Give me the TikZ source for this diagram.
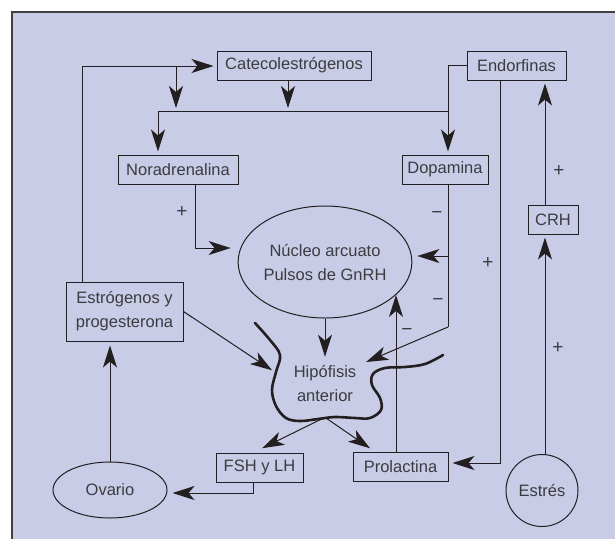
\documentclass[tikz,border=0pt]{standalone}
\usepackage{fontspec}
\setmainfont{Liberation Sans}
\usetikzlibrary{arrows.meta,shapes.geometric,calc}
\definecolor{fondo}{RGB}{200,204,230}
\definecolor{linea}{RGB}{35,31,32}
\definecolor{letra}{RGB}{60,60,64}

\begin{document}
\begin{tikzpicture}[x=1pt,y=-1pt,
  every node/.style={text=letra,font=\fontsize{16.5}{24}\selectfont},
  caja/.style={draw=linea,line width=1pt,minimum height=29pt,inner sep=0pt},
  elipse/.style={draw=linea,line width=1pt,ellipse,inner sep=0pt,align=center},
  flecha/.style={draw=linea,line width=1pt,-{Stealth[length=22pt,width=14pt,inset=6pt]},shorten >=3pt},
  signo/.style={font=\fontsize{19}{19}\selectfont}]
%\draw[help lines] (0,0) grid[step=50] (615,539);
\useasboundingbox (0,0) rectangle (615,539);
\fill[fondo] (12,12) rectangle (615,539);
\draw[line width=1.3pt,black!75] (12,539) -- (12,12) -- (615,12);

\node[caja,minimum width=154pt] (cateco) at (294,65.5) {Catecolestrógenos};
\node[caja,minimum width=99pt] (endor) at (516.5,65.5) {Endorfinas};
\node[caja,minimum width=120pt] (norad) at (178,169.5) {Noradrenalina};
\node[caja,minimum width=86pt] (dopa) at (445,169.5) {Dopamina};
\node[elipse,minimum width=156pt,minimum height=112pt] (nucleo) at (325,262) {Núcleo arcuato\\Pulsos de GnRH};
\node[caja,minimum width=117pt,minimum height=59pt,align=center] (estro) at (124.5,311.5) {Estrógenos y\\progesterona};
\node[caja,minimum width=50pt] (crh) at (553,219.5) {CRH};
\node[caja,minimum width=87pt] (fsh) at (259.5,467.5) {FSH y LH};
\node[caja,minimum width=95pt] (prol) at (400.5,467) {Prolactina};
\node[elipse,minimum width=114pt,minimum height=56pt] (ovario) at (110,490) {Ovario};
\node[draw=linea,line width=1pt,circle,inner sep=0pt,minimum size=72pt] (estres) at (542,490.5) {Estrés};
\node[align=center,inner sep=0pt] (hipo) at (325,383) {Hipófisis\\anterior};

\coordinate (c1) at (82,66);
\coordinate (c2) at (176,66);
\coordinate (c3) at (158,111);
\coordinate (c4) at (448,111);
\coordinate (c5) at (195,248);
\coordinate (c6) at (448,256);
\coordinate (c7) at (448,327);
\coordinate (c8) at (396,0);
\coordinate (c9) at (500,463);
\coordinate (c10) at (545,0);
\coordinate (c11) at (253,493);

% hipotalamo
\draw[flecha] (estro.north -| c1) -- (c1) -- (cateco.west |- c1);
\draw[flecha] (c2) -- (c2 |- c3);
\draw[flecha] (cateco.south -| 288,0) -- (c3 -| 288,0);
\draw[linea,line width=1pt] (c3) -- (c4);
\draw[flecha] (c3) -- (norad.north -| c3);
\draw[flecha] (endor.west) -| (dopa.north -| c4);
\draw[flecha,shorten >=7pt] (norad.south -| c5) -- (c5) -- (nucleo.west |- c5);
\draw[linea,line width=1pt] (dopa.south -| c7) -- (c7);
\draw[flecha,shorten >=5pt] (c6) -- (nucleo.east |- c6);
\draw[flecha] (c7) -- ([xshift=7pt,yshift=1.5pt]hipo.north east);
\draw[flecha] (prol.north -| c8) -- (c8 |- nucleo.-22);
\draw[flecha,shorten >=4pt] (endor.south -| c9) -- (c9) -- (prol.east |- c9);
\draw[flecha] (estres.north -| c10) -- (crh.south -| c10);
\draw[flecha] (crh.north -| c10) -- (endor.south -| c10);

% hipofisis
\draw[flecha] (nucleo.south) -- ([yshift=5pt]hipo.north);
\draw[flecha] (estro.east) -- ([xshift=-19pt,yshift=11pt]hipo.west);
\draw[flecha] ([yshift=-16pt]hipo.south) -- ([yshift=3pt]fsh.north);
\draw[flecha] ([yshift=-16pt]hipo.south) -- ([xshift=20pt,yshift=2pt]prol.north west);
\draw[linea,line width=2.6pt,line cap=round] plot[smooth,tension=0.6] coordinates {(255,323) (270,340) (280,355) (276,372) (272,390) (276,406) (286,418) (300,421) (318,419) (335,417) (355,418) (370,418) (381,410) (380,398) (372,385) (373,374) (385,368) (405,367) (425,364) (443,355)};

% ovario
\draw[flecha,shorten >=5pt] (fsh.south -| c11) -- (c11) -- (ovario.east |- c11);
\draw[flecha,shorten >=4pt] (ovario.north) -- (estro.south -| ovario.north);

\node[signo] (s1) at (182,212) {+};
\node[signo] (s2) at (437,215) {−};
\node[signo] (s3) at (438,302) {−};
\node[signo] (s4) at (407,332) {−};
\node[signo] (s5) at (488,263) {+};
\node[signo] (s6) at (559,171) {+};
\node[signo] (s7) at (558,348) {+};
\end{tikzpicture}
\end{document}
